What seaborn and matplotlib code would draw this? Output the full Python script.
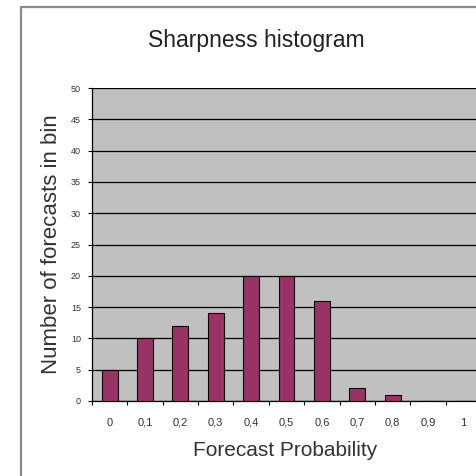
import matplotlib
matplotlib.use("Agg")
import matplotlib.pyplot as plt
import seaborn as sns
import pandas as pd
import numpy as np
from matplotlib.patches import Rectangle

categories = ["0", "0,1", "0,2", "0,3", "0,4", "0,5", "0,6", "0,7", "0,8", "0,9", "1"]
counts = [5, 10, 12, 14, 20, 20, 16, 2, 1, 0, 0]
yticks = [0, 5, 10, 15, 20, 25, 30, 35, 40, 45, 50]

sns.set_style("white")
plt.rcParams['font.family'] = ['Liberation Sans', 'DejaVu Sans']

df = pd.DataFrame({"prob": categories, "count": counts})

fig = plt.figure(figsize=(4.76, 4.76), dpi=100)
fig.patch.set_facecolor("white")
# outer chart frame
fig.patches.append(Rectangle((21/476, -0.05), 1.1, 1.05 - 7/476, transform=fig.transFigure,
                             fill=False, edgecolor="#8a8a8a", linewidth=1.6, zorder=0))

ax = fig.add_axes([92/476, 1 - 401/476, (481 - 92)/476, (401 - 88)/476])
ax.set_facecolor("#c0c0c0")
sns.barplot(data=df, x="prob", y="count", ax=ax, color="#993366", width=0.45,
            edgecolor="black", linewidth=0.8, saturation=1, zorder=3)
ax.set_xlim(-0.5, len(categories) - 0.5)
ax.set_ylim(0, 50)
ax.set_yticks(yticks)
ax.set_yticklabels([str(v) for v in yticks])
ax.yaxis.grid(True, color="black", linewidth=0.9, zorder=1)
ax.set_axisbelow(True)

# tick marks at category boundaries, labels at centers
ax.set_xticks(np.arange(len(categories)))
ax.set_xticklabels(categories)
ax.set_xticks(np.arange(len(categories) + 1) - 0.5, minor=True)
ax.tick_params(axis="x", which="major", length=0, pad=12, labelsize=8, labelcolor="#333333")
ax.tick_params(axis="x", which="minor", length=3, width=0.8, color="black", direction="out")
ax.tick_params(axis="y", which="major", length=3, width=0.8, color="black", direction="out",
               pad=5, labelsize=6.5, labelcolor="#333333")
ax.tick_params(left=True, bottom=True)
ax.xaxis.set_tick_params(which="minor", bottom=True)

for s in ["top", "right"]:
    ax.spines[s].set_visible(False)
ax.spines["left"].set_color("black")
ax.spines["left"].set_linewidth(0.9)
ax.spines["bottom"].set_color("black")
ax.spines["bottom"].set_linewidth(0.9)

ax.set_xlabel("")
ax.set_ylabel("")
fig.text(285/476, 1 - 450/476, "Forecast Probability", ha="center", va="center",
         fontsize=15, color="#333333")
fig.text(52/476, 1 - 244/476, "Number of forecasts in bin", ha="center", va="center",
         rotation=90, fontsize=16, color="#333333")
fig.text(256/476, 1 - 40/476, "Sharpness histogram", ha="center", va="center",
         fontsize=16.5, color="#222222")

fig.savefig("out.png", dpi=100)
